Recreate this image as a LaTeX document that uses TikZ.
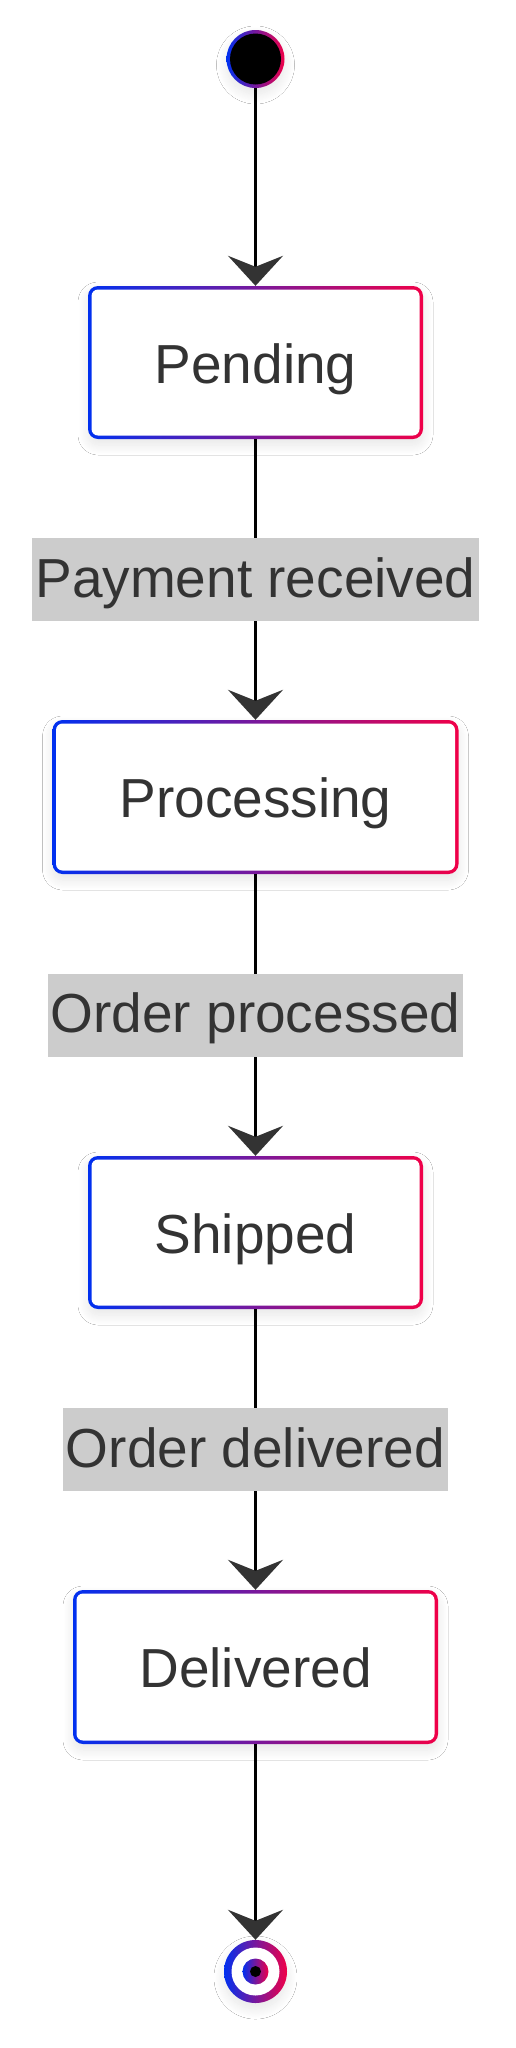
\documentclass[tikz,border=0pt]{standalone}
\usepackage{fontspec}
\setmainfont{Liberation Sans}
\usetikzlibrary{arrows.meta,shadows.blur}
\definecolor{gblue}{RGB}{0,48,240}
\definecolor{gred}{RGB}{240,0,72}
\definecolor{txtgray}{RGB}{51,51,51}
\definecolor{lblgray}{RGB}{204,204,204}
\definecolor{tipgray}{RGB}{51,51,51}
\tikzset{
  softshadow/.style={blur shadow={shadow xshift=0pt, shadow yshift=-6pt, shadow blur radius=10pt, shadow blur steps=24, shadow opacity=10}},
  statebox/.style={softshadow, shade, left color=gblue, right color=gred, rounded corners=10pt,
    minimum height=153pt, inner xsep=0pt, inner ysep=0pt, text=txtgray,
    font=\fontsize{55pt}{66pt}\selectfont, text height=41pt, text depth=0pt,
    path picture={\fill[white, rounded corners=6.5pt]
      ([shift={(3.5pt,3.5pt)}]path picture bounding box.south west) rectangle
      ([shift={(-3.5pt,-3.5pt)}]path picture bounding box.north east);}},
  startst/.style={softshadow, circle, shade, left color=gblue, right color=gred,
    minimum size=58pt, inner sep=0pt,
    path picture={\fill[black] (path picture bounding box.center) circle (25.5pt);}},
  endst/.style={softshadow, circle, shade, left color=gblue, right color=gred,
    minimum size=63pt, inner sep=0pt,
    path picture={\fill[white] (path picture bounding box.center) circle (24pt);
      \shade[left color=gblue, right color=gred] (path picture bounding box.center) circle (13pt);
      \fill[black] (path picture bounding box.center) circle (5.5pt);}},
  trans/.style={draw=black, line width=2.6pt, -{Stealth[length=30pt, width=55pt, inset=11pt, color=tipgray]}},
  lbl/.style={fill=lblgray, text=txtgray, font=\fontsize{55pt}{66pt}\selectfont,
    text height=45pt, text depth=10pt, minimum height=83pt, inner xsep=3pt, inner ysep=0pt}
}
\begin{document}
\begin{tikzpicture}
\useasboundingbox (0,0) rectangle (515pt,-2048pt);
\fill[white] (0,0) rectangle (515pt,-2048pt);

\node[startst] (start) at (255.5pt,-59pt) {};
\node[statebox, minimum width=335pt] (pending) at (255.5pt,-362.5pt) {Pending};
\node[statebox, minimum width=406pt, minimum height=154pt] (processing) at (255.5pt,-797pt) {Processing};
\node[statebox, minimum width=335pt] (shipped) at (255.5pt,-1232.5pt) {Shipped};
\node[statebox, minimum width=365pt, minimum height=154pt] (delivered) at (255.5pt,-1667pt) {Delivered};
\node[endst] (final) at (255.5pt,-1971.5pt) {};

\draw[trans] (start) -- (pending);
\draw[trans] (pending) -- node[lbl] {Payment received} (processing);
\draw[trans] (processing) -- node[lbl] {Order processed} (shipped);
\draw[trans] (shipped) -- node[lbl] {Order delivered} (delivered);
\draw[trans] (delivered) -- (final);
\end{tikzpicture}
\end{document}
